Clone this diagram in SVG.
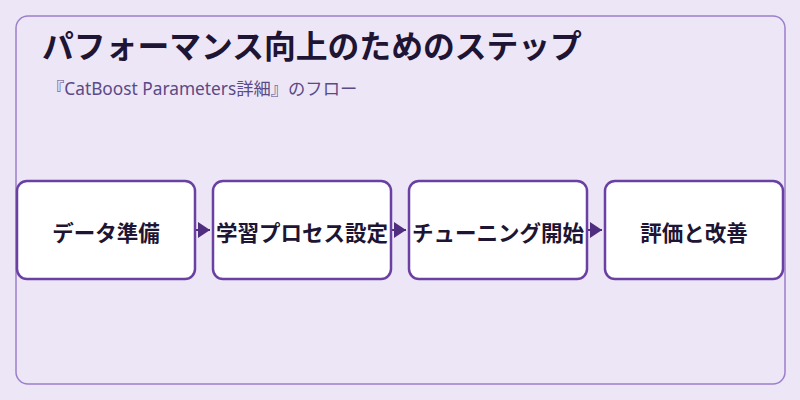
<svg xmlns="http://www.w3.org/2000/svg" width="800" height="400" viewBox="0 0 800 400">
<defs>
<style>
.node rect{fill:#ffffff;stroke:#6b40a3;stroke-width:2.5}
.node text{font-family:"Noto Sans CJK JP","Noto Sans",sans-serif;font-size:21.5px;font-weight:bold;fill:#1e1433;text-anchor:middle;dominant-baseline:central}
.conn line{stroke:#4f2d7f;stroke-width:2}
</style>
<marker id="ah" viewBox="0 0 10 10" refX="10" refY="5" markerWidth="12" markerHeight="16" markerUnits="userSpaceOnUse" orient="auto" preserveAspectRatio="none">
<path d="M0,0 L10,5 L0,10 Z" fill="#4f2d7f"/>
</marker>
</defs>
<rect x="0" y="0" width="800" height="400" fill="#ede6f6"/>
<rect x="16" y="16" width="769" height="368" rx="12" fill="#ede6f6" stroke="#9c7fcb" stroke-width="1.5"/>
<text x="42" y="58" font-family="'Noto Sans CJK JP','Noto Sans',sans-serif" font-size="31.8" font-weight="bold" fill="#1e1433">パフォーマンス向上のためのステップ</text>
<text x="47" y="95" font-family="'Noto Sans','Noto Sans CJK JP',sans-serif" font-size="17.3" fill="#5a4a86">『CatBoost Parameters詳細』のフロー</text>
<g class="conn">
<line x1="196" y1="230" x2="210" y2="230" marker-end="url(#ah)"/>
<line x1="392" y1="230" x2="406" y2="230" marker-end="url(#ah)"/>
<line x1="588" y1="230" x2="602" y2="230" marker-end="url(#ah)"/>
</g>
<g id="n1" class="node"><rect x="17" y="181" width="178" height="98" rx="10"/><text x="106" y="231">データ準備</text></g>
<g id="n2" class="node"><rect x="213" y="181" width="178" height="98" rx="10"/><text x="302" y="231">学習プロセス設定</text></g>
<g id="n3" class="node"><rect x="409" y="181" width="178" height="98" rx="10"/><text x="498" y="231">チューニング開始</text></g>
<g id="n4" class="node"><rect x="605" y="181" width="178" height="98" rx="10"/><text x="694" y="231">評価と改善</text></g>
</svg>
